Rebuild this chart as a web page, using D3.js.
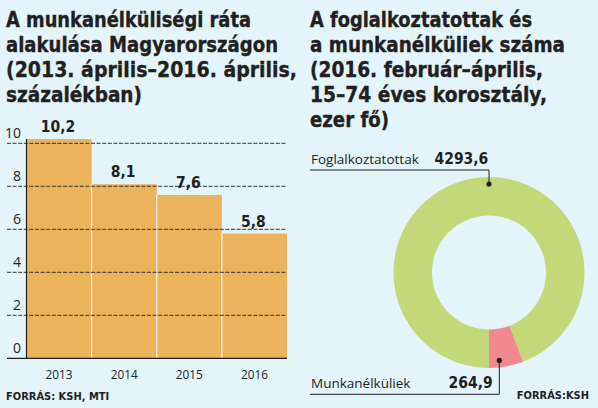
<!DOCTYPE html>
<html><head><meta charset="utf-8">
<script src="https://cdn.jsdelivr.net/npm/d3@7"></script>
<style>
html,body{margin:0;padding:0;background:#e3f4fb;}
svg{display:block;}
.ttl{font-family:"Liberation Sans Narrow","DejaVu Sans Condensed","Liberation Sans",sans-serif;font-stretch:condensed;font-weight:bold;fill:#231f20;stroke:#231f20;stroke-width:0.35px;}
.bd{font-family:"Liberation Sans Narrow","DejaVu Sans Condensed","Liberation Sans",sans-serif;font-stretch:condensed;font-weight:bold;fill:#231f20;}
.rg{font-family:"Open Sans",sans-serif;fill:#231f20;}
</style></head>
<body><svg id="c" width="598" height="408"></svg>
<script>
// ---- data ----
const years = ["2013", "2014", "2015", "2016"];
const rates = [10.2, 8.1, 7.6, 5.8];
const yTicks = [0, 2, 4, 6, 8, 10];
const groups = ["Foglalkoztatottak", "Munkanélküliek"];
const counts = [4293.6, 264.9];
const titleLeft = ["A munkanélküliségi ráta", "alakulása Magyarországon", "(2013. április–2016. április,", "százalékban)"];
const titleRight = ["A foglalkoztatottak és", "a munkanélküliek száma", "(2016. február–április,", "15–74 éves korosztály,", "ezer fő)"];
const sourceLeft = "FORRÁS: KSH, MTI";
const sourceRight = "FORRÁS:KSH";

// ---- layout ----
const svg = d3.select("#c");
svg.append("rect").attr("width", 598).attr("height", 408).attr("fill", "#e3f4fb");
const huFmt = d3.formatLocale({decimal: ",", thousands: "", grouping: [3], currency: ["", ""]}).format(".1f");

const leftW = [245, 272, 291, 136];
titleLeft.forEach((t, i) => {
  svg.append("text").attr("class", "ttl").attr("x", 6).attr("y", 27 + i * 25)
    .attr("font-size", 21).attr("textLength", leftW[i]).attr("lengthAdjust", "spacingAndGlyphs").text(t);
});
const rightW = [222, 255, 233, 237, 79];
titleRight.forEach((t, i) => {
  svg.append("text").attr("class", "ttl").attr("x", 310).attr("y", 27 + i * 25)
    .attr("font-size", 21).attr("textLength", rightW[i]).attr("lengthAdjust", "spacingAndGlyphs").text(t);
});

// ---- bar chart ----
const x = d3.scaleBand().domain(years).range([26.5, 287]).padding(0);
const y = d3.scaleLinear().domain([0, 10]).range([358.3, 143.3]);

svg.append("g").selectAll("rect").data(years).join("rect")
  .attr("x", d => x(d)).attr("width", x.bandwidth())
  .attr("y", (d, i) => y(rates[i])).attr("height", (d, i) => y(0) - y(rates[i]))
  .attr("fill", "#ecb35d");
// white separators
svg.append("g").selectAll("line").data(years.slice(1)).join("line")
  .attr("x1", d => x(d)).attr("x2", d => x(d))
  .attr("y1", y(0)).attr("y2", (d, i) => y(Math.min(rates[i], rates[i + 1])))
  .attr("stroke", "#ffffff").attr("stroke-width", 1);

// gridlines
svg.append("g").selectAll("line").data(yTicks.filter(v => v > 0)).join("line")
  .attr("x1", 7).attr("x2", 287).attr("y1", d => y(d)).attr("y2", d => y(d))
  .attr("stroke", "#231f20").attr("stroke-width", 0.9).attr("stroke-dasharray", "4,1.6");
// baseline and axis
svg.append("line").attr("x1", 7).attr("x2", 287).attr("y1", y(0)).attr("y2", y(0))
  .attr("stroke", "#231f20").attr("stroke-width", 1.2);
svg.append("line").attr("x1", 26.5).attr("x2", 26.5).attr("y1", y(10.2)).attr("y2", y(0))
  .attr("stroke", "#231f20").attr("stroke-width", 1.2);

// y tick labels
svg.append("g").selectAll("text").data(yTicks).join("text").attr("class", "rg")
  .attr("x", 21).attr("y", d => y(d) - 5).attr("text-anchor", "end").attr("font-size", 14)
  .text(d => d);
// x labels
svg.append("g").selectAll("text").data(years).join("text").attr("class", "rg")
  .attr("x", d => x(d) + x.bandwidth() / 2).attr("y", 378.5).attr("text-anchor", "middle").attr("font-size", 13.5)
  .attr("textLength", 27).attr("lengthAdjust", "spacingAndGlyphs")
  .text(d => d);
// value labels
svg.append("g").selectAll("text").data(years).join("text").attr("class", "bd")
  .attr("x", d => x(d) + x.bandwidth() / 2 - 1).attr("y", (d, i) => y(rates[i]) - 7)
  .attr("text-anchor", "middle").attr("font-size", 15.5)
  .text((d, i) => huFmt(rates[i]));

svg.append("text").attr("class", "bd").attr("x", 6).attr("y", 400).attr("font-size", 11)
  .text(sourceLeft);

// ---- donut ----
const cx = 489, cy = 272.5;
const pie = d3.pie().sort(null).startAngle(Math.PI).endAngle(3 * Math.PI);
const arcs = pie(counts);
const arc = d3.arc().innerRadius(57).outerRadius(95.5);
const colors = ["#c3d979", "#f1888e"];
const g = svg.append("g").attr("transform", `translate(${cx},${cy})`);
g.selectAll("path").data(arcs).join("path").attr("d", arc).attr("fill", (d, i) => colors[i]);

const dotAngle = [0, 173.3 * Math.PI / 180];
const dotR = 88.5;
const lineY = [170, 394.3];
const labelY = [164, 388];
const valueX = [488.3, 492.7];
groups.forEach((name, i) => {
  const dx = cx + dotR * Math.sin(dotAngle[i]);
  const dy = cy - dotR * Math.cos(dotAngle[i]);
  svg.append("path").attr("d", `M310,${lineY[i]}H${dx}V${dy}`)
    .attr("fill", "none").attr("stroke", "#231f20").attr("stroke-width", 1);
  svg.append("circle").attr("cx", dx).attr("cy", dy).attr("r", 2.6).attr("fill", "#231f20");
  svg.append("text").attr("class", "rg").attr("x", 311).attr("y", labelY[i]).attr("font-size", 13.5).text(name);
  svg.append("text").attr("class", "bd").attr("x", valueX[i]).attr("y", labelY[i])
    .attr("text-anchor", "end").attr("font-size", 15.5).text(huFmt(counts[i]));
});

svg.append("text").attr("class", "bd").attr("x", 589).attr("y", 399).attr("font-size", 11)
  .attr("text-anchor", "end").text(sourceRight);
</script></body></html>
